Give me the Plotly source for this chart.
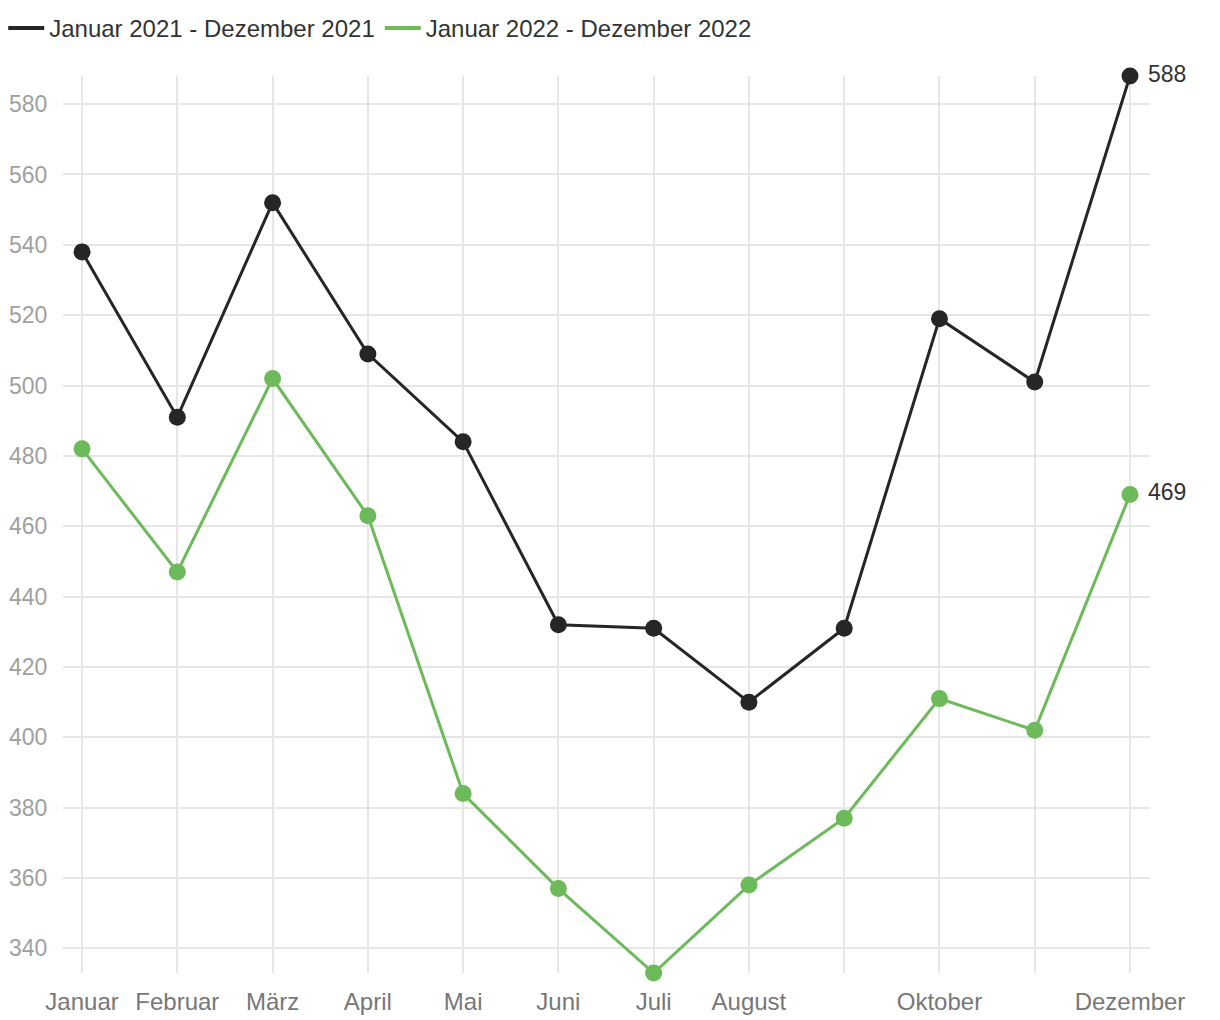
import plotly.graph_objects as go

months = ["Januar", "Februar", "März", "April", "Mai", "Juni", "Juli",
          "August", "September", "Oktober", "November", "Dezember"]
tick_labels = ["Januar", "Februar", "März", "April", "Mai", "Juni", "Juli",
               "August", "", "Oktober", "", "Dezember"]
series_2021_name = "Januar 2021 - Dezember 2021"
series_2022_name = "Januar 2022 - Dezember 2022"
values_2021 = [538, 491, 552, 509, 484, 432, 431, 410, 431, 519, 501, 588]
values_2022 = [482, 447, 502, 463, 384, 357, 333, 358, 377, 411, 402, 469]
y_ticks = [340, 360, 380, 400, 420, 440, 460, 480, 500, 520, 540, 560, 580]

x = list(range(len(months)))
FONT = "Liberation Sans, Arial, Helvetica, sans-serif"


def end_text(vals):
    return [""] * (len(vals) - 1) + [" " + str(vals[-1])]


fig = go.Figure()
series = [(series_2021_name, values_2021, "#262626"),
          (series_2022_name, values_2022, "#6dba5a")]
for name, vals, color in series:
    fig.add_trace(go.Scatter(
        x=x, y=vals, name=name, mode="lines+markers+text",
        line=dict(color=color, width=3),
        marker=dict(color=color, size=17),
        text=end_text(vals), textposition="middle right",
        textfont=dict(color="#333333", size=23, family=FONT),
        customdata=months, showlegend=False, legendgroup=name,
        hovertemplate="%{customdata}: %{y}<extra></extra>",
    ))
# legend-only entries (line symbol without marker)
for name, vals, color in series:
    fig.add_trace(go.Scatter(
        x=[None], y=[None], name=name, mode="lines",
        line=dict(color=color, width=4), legendgroup=name, showlegend=True,
    ))

fig.update_layout(
    width=1220, height=1020,
    margin=dict(l=63, r=70, t=76, b=47, autoexpand=False),
    plot_bgcolor="white", paper_bgcolor="white",
    font=dict(family=FONT, color="#333333"),
    showlegend=True,
    legend=dict(orientation="h", x=-0.055, xanchor="left", y=1.053, yanchor="middle",
                font=dict(size=24, color="#333333"), itemwidth=36,
                traceorder="normal", bgcolor="rgba(0,0,0,0)"),
    xaxis=dict(range=[-0.2, 11.21], tickmode="array", tickvals=x, ticktext=tick_labels,
               showgrid=True, gridcolor="#e6e6e6", gridwidth=2, zeroline=False,
               showline=False, ticks="outside", ticklen=7, tickcolor="rgba(0,0,0,0)",
               tickfont=dict(size=24, color="#777777", family=FONT), automargin=False),
    yaxis=dict(range=[333, 588], tickmode="array", tickvals=y_ticks,
               showgrid=True, gridcolor="#e6e6e6", gridwidth=2, zeroline=False,
               showline=False, ticks="outside", ticklen=10, tickcolor="rgba(0,0,0,0)",
               tickfont=dict(size=23, color="#a0a0a0", family=FONT), automargin=False),
)
fig.update_traces(cliponaxis=False)

fig.write_html("out.html")
